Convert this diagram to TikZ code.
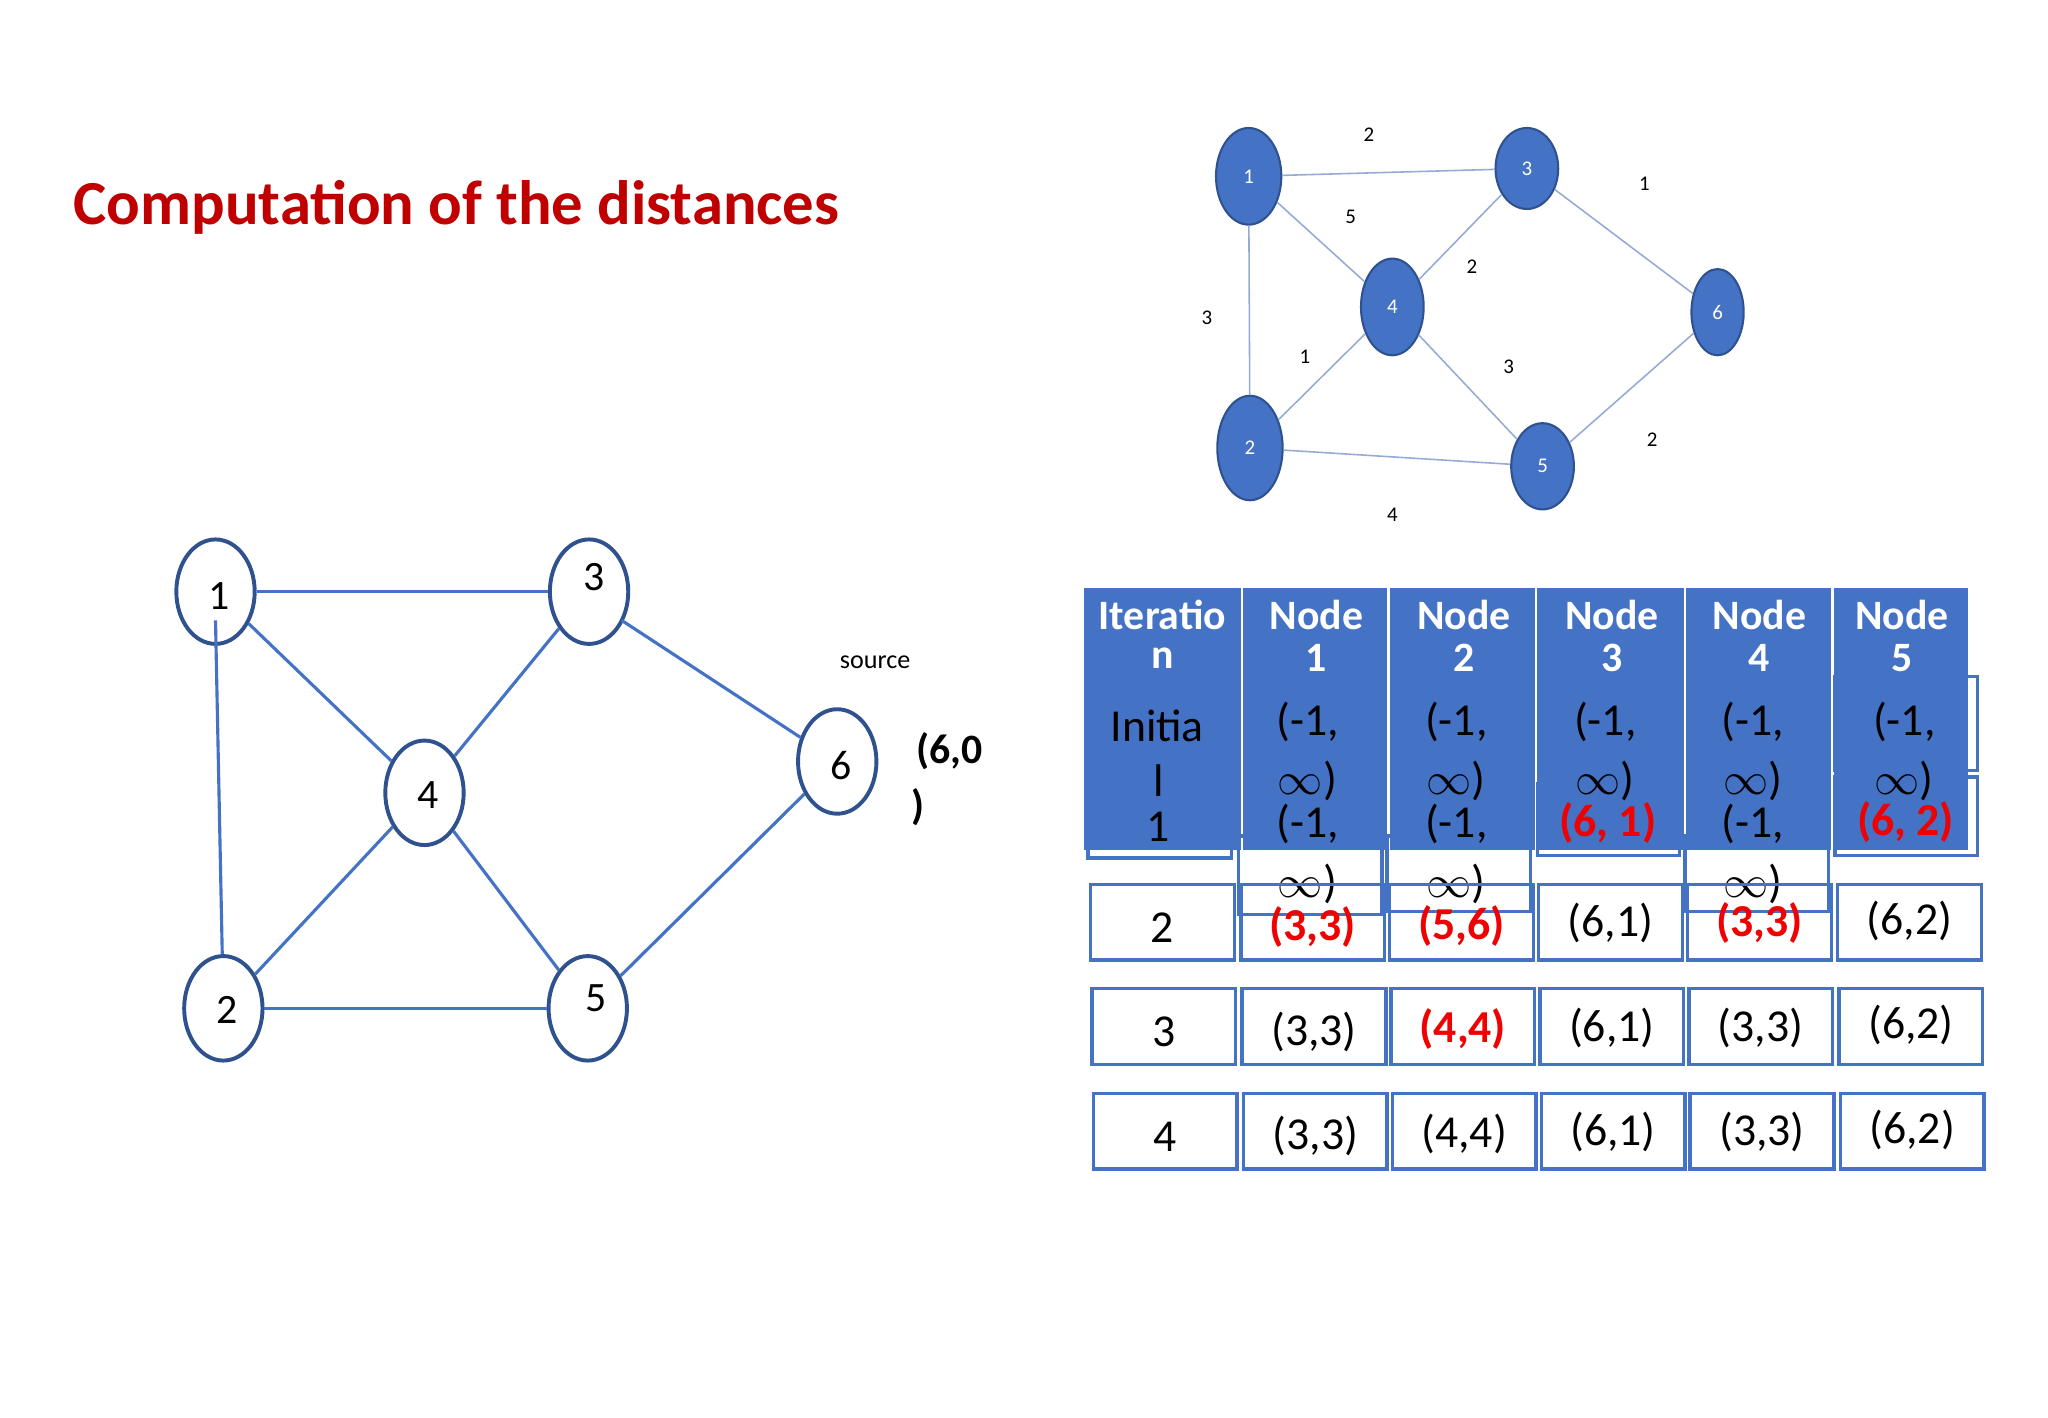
\documentclass[tikz,border=0pt]{standalone}
\usepackage{fontspec}
\setmainfont{Carlito}
\usetikzlibrary{shapes.geometric}
\definecolor{tred}{RGB}{192,0,0}
\definecolor{dblue}{RGB}{47,82,143}
\definecolor{mblue}{RGB}{68,114,196}
\definecolor{lblue}{RGB}{150,170,215}
\definecolor{rred}{RGB}{240,0,0}
\tikzset{
 wnode/.style={ellipse,draw=dblue,line width=1.5pt,fill=white,inner sep=0pt,minimum width=30pt,minimum height=40pt},
 bnode/.style={ellipse,draw=dblue,line width=0.8pt,fill=mblue,inner sep=0pt,text=white,font=\fontsize{8}{9}\selectfont},
 wedge/.style={draw=mblue,line width=1.2pt},
 tedge/.style={draw=lblue,line width=0.6pt},
 wt/.style={font=\fontsize{8}{9}\selectfont},
 cellbox/.style={draw=mblue,line width=1.3pt},
 hdr/.style={fill=mblue},
 ct/.style={font=\fontsize{17.5}{19}\selectfont,inner sep=0pt},
 ht/.style={font=\fontsize{16}{18}\selectfont\bfseries,text=white,inner sep=0pt},
 rt/.style={font=\fontsize{17.5}{19}\selectfont\bfseries,text=rred,inner sep=0pt},
}
\begin{document}
\begin{tikzpicture}[x=0.5pt,y=-0.5pt]
\useasboundingbox[fill=white] (0,0) rectangle (1568,1085);
\node[anchor=base west,text=tred,font=\fontsize{24}{28}\selectfont\bfseries,inner sep=0pt] (title) at (56,172) {Computation of the distances};
% left graph
\node[wnode] (a1) at (165,453) {};
\node[wnode] (a3) at (451,453) {};
\node[wnode] (a6) at (641,583) {};
\node[wnode] (a4) at (325,607) {};
\node[wnode] (a2) at (171,772) {};
\node[wnode] (a5) at (450,772) {};
\draw[wedge] (a1) -- (a3);
\draw[wedge] (a1) -- (a4);
\draw[wedge] (a1.center) ++(0,22) coordinate (a1b) (a1b) -- (a2);
\draw[wedge] (a3) -- (a4);
\draw[wedge] (a3.center) ++(25,22) coordinate (a3b) (a3b) -- (a6);
\draw[wedge] (a4) -- (a2);
\draw[wedge] (a4) -- (a5);
\draw[wedge] (a2) -- (a5);
\draw[wedge] (a5) -- (a6);
\foreach \n/\t/\dx/\dy in {a1/1/3/3,a3/3/4/-11,a6/6/3/3,a4/4/3/2,a2/2/3/1,a5/5/6/-8}
  \node[font=\fontsize{16}{18}\selectfont] at ([xshift=\dx*0.5pt,yshift=-\dy*0.5pt]\n.center) {\t};
\node[font=\fontsize{10}{12}\selectfont] (src) at (670,507) {source};
\node[font=\fontsize{16}{18}\selectfont\bfseries] (d6a) at (727,575) {(6,0};
\node[font=\fontsize{16}{18}\selectfont\bfseries] (d6b) at (703,618) {)};
% top right graph
\node[bnode,minimum width=25pt,minimum height=37pt] (b1) at (956,135) {1};
\node[bnode,minimum width=24pt,minimum height=31pt] (b3) at (1169,129) {3};
\node[bnode,minimum width=24pt,minimum height=37pt] (b4) at (1066,235) {4};
\node[bnode,minimum width=20pt,minimum height=33pt] (b6) at (1315,239) {6};
\node[bnode,minimum width=25pt,minimum height=40pt] (b2) at (957,343) {2};
\node[bnode,minimum width=24pt,minimum height=33pt] (b5) at (1181,357) {5};
\draw[tedge] (b1) -- (b3); \draw[tedge] (b1) -- (b4); \draw[tedge] (b1) -- (b2);
\draw[tedge] (b3) -- (b4); \draw[tedge] (b3) -- (b6); \draw[tedge] (b4) -- (b2);
\draw[tedge] (b4) -- (b5); \draw[tedge] (b2) -- (b5); \draw[tedge] (b5) -- (b6);
\foreach \x/\y/\t in {1048/103/2,1034/166/5,1127/204/2,1259/141/1,924/243/3,999/273/1,1155/281/3,1265/337/2,1066/394/4}
  \node[wt] at (\x,\y) {\t};
% table: row-1 overflow boxes
\draw[cellbox] (833,600) rectangle (943,657);
\draw[cellbox] (948,640) rectangle (1058,700);
\draw[cellbox] (1062,640) rectangle (1172,698);
\draw[cellbox] (1177,600) rectangle (1286,655);
\draw[cellbox] (1290,640) rectangle (1400,698);
\draw[cellbox] (1405,518) rectangle (1514,590);
\draw[cellbox] (1405,595) rectangle (1514,655);
% blue header block
\foreach \xa/\xb in {830/950,952/1062,1064/1175,1177/1289,1291/1402,1404/1507}
  \fill[hdr] (\xa,450) rectangle (\xb,651);
\foreach \x/\t in {1008/1,1121/2,1234/3,1347/4,1456/5}{
  \node[ht] at (\x,471) {Node};
  \node[ht] at (\x,504) {\t};}
\node[ht] at (890,471) {Iteratio};
\node[ht] at (890,504) {n};
\node[ct] at (886,556) {Initia};
\node[ct] at (887,598) {l};
\node[ct] at (887,633) {1};
\foreach \x in {1001,1115,1229,1342,1458}{
  \node[ct] at (\x,553) {(-1,};
  \node[ct] at (\x,598) {$\infty$)};}
\foreach \x in {1001,1115,1342}{
  \node[ct] at (\x,631) {(-1,};
  \node[ct] at (\x,677) {$\infty$)};}
\node[rt] at (1231,630) {(6, 1)};
\node[rt] at (1459,629) {(6, 2)};
% rows 2-4
\foreach \y/\s in {677/0,757/1,837/2}{
  \foreach \xa in {835,950,1064,1178,1292,1407}
    \draw[cellbox] (\xa+\s,\y) rectangle (\xa+\s+110,\y+58);}
\node[ct] at (890,710) {2};
\node[rt] at (1005,710) {(3,3)};
\node[rt] at (1119,709) {(5,6)};
\node[ct] at (1233,707) {(6,1)};
\node[rt] at (1347,707) {(3,3)};
\node[ct] at (1462,705) {(6,2)};
\node[ct] at (891,790) {3};
\node[ct] at (1006,790) {(3,3)};
\node[rt] at (1120,788) {(4,4)};
\node[ct] at (1234,787) {(6,1)};
\node[ct] at (1348,787) {(3,3)};
\node[ct] at (1463,785) {(6,2)};
\node[ct] at (892,870) {4};
\node[ct] at (1007,870) {(3,3)};
\node[ct] at (1121,868) {(4,4)};
\node[ct] at (1235,867) {(6,1)};
\node[ct] at (1349,867) {(3,3)};
\node[ct] at (1464,865) {(6,2)};
\end{tikzpicture}
\end{document}
